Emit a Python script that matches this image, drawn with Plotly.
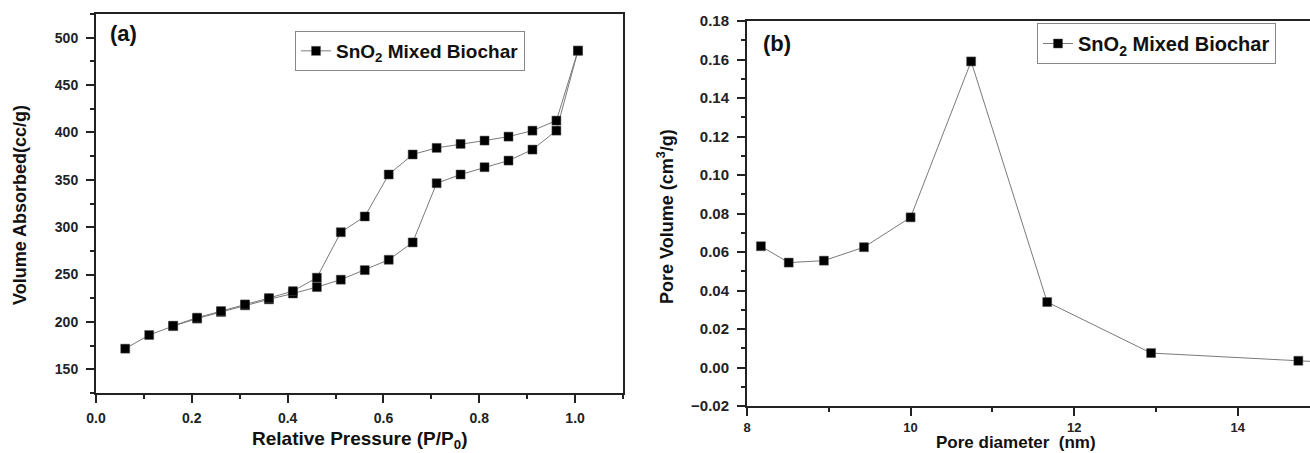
import plotly.graph_objects as go

# (a) N2 isotherm, adsorption up then desorption back down
ads_p = [0.061, 0.111, 0.161, 0.211, 0.261, 0.311, 0.361, 0.411, 0.461, 0.511,
         0.561, 0.611, 0.661, 0.711, 0.761, 0.811, 0.861, 0.911, 0.961, 1.006]
ads_v = [171.8, 186.2, 195.6, 203.5, 210.5, 217.5, 223.8, 230.0, 236.8, 244.6,
         254.7, 265.6, 283.9, 346.4, 355.6, 363.3, 370.3, 381.9, 401.9, 486.3]
des_p = [1.006, 0.961, 0.911, 0.861, 0.811, 0.761, 0.711, 0.661, 0.611, 0.561,
         0.511, 0.461, 0.411, 0.361, 0.311, 0.261, 0.211, 0.161]
des_v = [486.3, 412.5, 401.9, 395.6, 391.4, 387.9, 383.7, 376.7, 355.6, 311.3,
         294.7, 246.7, 232.5, 225.2, 218.5, 211.5, 204.5, 196.0]

# (b) pore size distribution
pore_d = [8.17, 8.51, 8.94, 9.43, 10.0, 10.74, 11.67, 12.94, 14.74, 15.8]
pore_v = [0.063, 0.0545, 0.0555, 0.0625, 0.078, 0.159, 0.034, 0.0075, 0.0035, 0.0012]

series_name = "SnO<sub>2</sub> Mixed Biochar"

W, H = 1310, 453
FONT = "Liberation Sans, Arial, sans-serif"
AX = "#222"

fig = go.Figure()

fig.add_trace(go.Scatter(
    x=ads_p + des_p, y=ads_v + des_v, mode="lines+markers", name=series_name,
    line=dict(color="#7a7a7a", width=1), showlegend=True,
    marker=dict(symbol="square", size=9, color="black", line=dict(color="#555", width=0.5)),
    xaxis="x", yaxis="y", legend="legend",
))
fig.add_trace(go.Scatter(
    x=pore_d, y=pore_v, mode="lines+markers", name=series_name,
    line=dict(color="#7a7a7a", width=1), showlegend=True,
    marker=dict(symbol="square", size=9, color="black", line=dict(color="#555", width=0.5)),
    xaxis="x2", yaxis="y2", legend="legend2",
))


def axis(fsize, **kw):
    base = dict(showline=True, linecolor=AX, linewidth=2, ticks="outside", ticklen=8,
                tickwidth=1.5, tickcolor=AX, showgrid=False, zeroline=False, automargin=False,
                tickfont=dict(family=FONT, size=fsize, color=AX, weight="bold"))
    base.update(kw)
    return base


def minor(step):
    return dict(dtick=step, ticks="outside", ticklen=4, tickwidth=1.5, tickcolor=AX)


def label(text, x, y, size, angle=0, yanchor="middle"):
    return dict(text=text, x=x / W, y=1 - y / H, xref="paper", yref="paper", showarrow=False,
                textangle=angle, xanchor="center", yanchor=yanchor, borderpad=0,
                font=dict(family=FONT, size=size, color="#111", weight="bold"))


# plot areas in pixel units
ax_l, ax_r, ax_t, ax_b = 96, 623, 14, 393
bx_l, bx_r, bx_t, bx_b = 747, 1310, 21, 406

fig.update_layout(
    width=W, height=H, margin=dict(l=0, r=0, t=0, b=0),
    paper_bgcolor="white", plot_bgcolor="white", showlegend=True,
    font=dict(family=FONT, color=AX),
    xaxis=axis(14, domain=[ax_l / W, ax_r / W], anchor="y", range=[0, 1.1], dtick=0.2, tick0=0,
               tickformat=".1f", mirror=True, minor=minor(0.1), ticklabelstandoff=3),
    yaxis=axis(14, domain=[1 - ax_b / H, 1 - ax_t / H], anchor="x", range=[125, 525], dtick=50,
               tick0=150, mirror=True, minor=minor(25), ticklabelstandoff=5),
    xaxis2=axis(13, domain=[bx_l / W, bx_r / W], anchor="y2", range=[8, 8 + (bx_r - bx_l) / 81.8],
                dtick=2, tick0=8, mirror=True, minor=minor(1), ticklabelstandoff=0),
    yaxis2=axis(15, domain=[1 - bx_b / H, 1 - bx_t / H], anchor="x2", range=[-0.02, 0.18],
                dtick=0.02, tick0=0, tickformat=".2f", mirror=False, minor=minor(0.01),
                ticklabelstandoff=5),
    legend=dict(x=295 / W, y=1 - 31 / H, xanchor="left", yanchor="top",
                bordercolor="#888", borderwidth=1, bgcolor="white",
                font=dict(family=FONT, size=19, color="#111", weight="bold"),
                tracegroupgap=0, itemwidth=30),
    legend2=dict(x=1037 / W, y=1 - 23 / H, xanchor="left", yanchor="top",
                 bordercolor="#888", borderwidth=1, bgcolor="white",
                 font=dict(family=FONT, size=20, color="#111", weight="bold"),
                 tracegroupgap=0, itemwidth=30),
    annotations=[
        label("(a)", 123, 33, 22),
        label("(b)", 777, 43, 22),
        label("Relative Pressure (P/P<sub>0</sub>)", 359, 440, 19),
        label("Volume Absorbed(cc/g)", 20, 205, 18, -90),
        label("Pore diameter  (nm)", 1016, 453, 17, yanchor="bottom"),
        label("Pore Volume (cm<sup>3</sup>/g)", 665, 217, 18, -90),
    ],
)

# page body has a default 8px margin; drop it so the figure fills the window
fig.write_html("out.html", config={"displayModeBar": False},
               post_script="document.body.style.margin='0';")
